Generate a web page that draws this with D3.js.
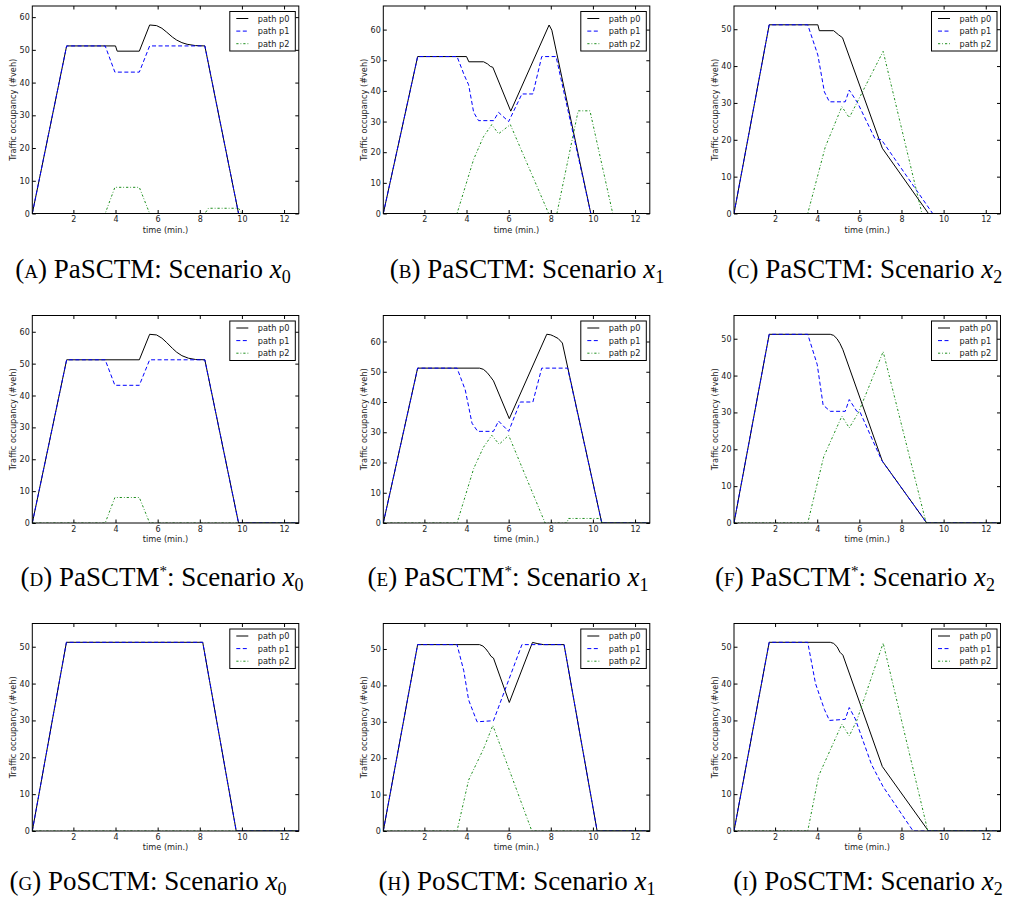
<!DOCTYPE html>
<html><head><meta charset="utf-8">
<script src="https://cdn.jsdelivr.net/npm/d3@7"></script>
<style>
body{margin:0;background:#fff;}
svg{display:block;}
</style></head>
<body>
<svg id="chart" width="1014" height="904"></svg>
<script>
// ---------------- DATA ----------------
const xTicks = [2, 4, 6, 8, 10, 12];
const xDomain = [0.05, 12.7];
const seriesNames = ["path p0", "path p1", "path p2"];

// Panel A: PaSCTM, scenario x0
const A_p0 = [[0.05,0],[1.68,51.2],[4.0,51.2],[4.08,49.6],[5.13,49.6],[5.62,57.6],[5.95,57.4],[6.2,56.6],[6.43,55.4],[6.7,53.9],[6.9,53.0],[7.15,52.2],[7.4,51.7],[7.8,51.3],[8.24,51.2],[9.84,0],[12.7,0]];
const A_p1 = [[0.05,0],[1.68,51.2],[3.51,51.2],[3.97,43.2],[5.13,43.2],[5.62,51.2],[8.24,51.2],[9.84,0],[12.7,0]];
const A_p2 = [[0.05,0],[3.51,0],[3.97,8.0],[5.13,8.0],[5.62,0],[8.24,0],[8.41,1.6],[9.84,1.6],[10.0,0],[12.7,0]];
// Panel B: PaSCTM, scenario x1
const B_p0 = [[0.05,0],[1.68,51.2],[4.0,51.2],[4.11,49.5],[4.81,49.5],[5.0,48.8],[5.13,48.0],[5.25,47.7],[6.1,33.4],[7.92,61.5],[8.05,59.8],[9.9,0],[12.7,0]];
const B_p1 = [[0.05,0],[1.68,51.2],[3.55,51.2],[3.9,45],[4.1,42],[4.34,33],[4.57,30.3],[5.29,30.3],[5.52,33],[6.0,30],[6.63,39],[7.15,39],[7.57,51.2],[8.25,51.2],[9.9,0],[12.7,0]];
const B_p2 = [[0.05,0],[3.55,0],[4.34,17.7],[4.8,25],[5.2,29],[5.52,26],[6.08,29],[7.9,0],[8.29,0],[9.3,33.5],[9.86,33.5],[10.94,0],[12.7,0]];
// Panel C: PaSCTM, scenario x2
const C_p0 = [[0.05,0],[1.72,51.2],[4.03,51.2],[4.1,49.6],[4.78,49.6],[5.01,48.5],[5.2,47.7],[7.09,17.7],[9.28,0],[12.7,0]];
const C_p1 = [[0.05,0],[1.72,51.2],[3.55,51.2],[4.03,43],[4.34,33],[4.58,30.3],[5.33,30.3],[5.52,33.5],[5.92,30],[6.74,20.3],[7.05,20],[9.48,0],[12.7,0]];
const C_p2 = [[0.05,0],[3.55,0],[4.38,18],[5.17,29],[5.52,26],[5.88,30],[7.13,44],[8.97,0],[12.7,0]];
// Panel D: PaSCTM*, scenario x0
const D_p0 = [[0.05,0],[1.68,51.2],[5.13,51.2],[5.62,59.2],[5.95,59.0],[6.2,58.0],[6.43,56.6],[6.7,54.8],[6.9,53.6],[7.15,52.5],[7.46,51.7],[7.8,51.3],[8.24,51.2],[9.84,0],[12.7,0]];
const D_p1 = [[0.05,0],[1.68,51.2],[3.51,51.2],[3.97,43.2],[5.13,43.2],[5.62,51.2],[8.24,51.2],[9.84,0],[12.7,0]];
const D_p2 = [[0.05,0],[3.51,0],[3.97,8.0],[5.13,8.0],[5.62,0],[12.7,0]];
// Panel E: PaSCTM*, scenario x1
const E_p0 = [[0.05,0],[1.68,51.2],[4.62,51.2],[4.8,50.8],[4.97,49.8],[5.12,48.5],[5.28,47],[6.03,34.5],[7.81,62.4],[8.0,62.2],[8.13,61.8],[8.35,61],[8.55,59.5],[10.42,0],[12.7,0]];
const E_p1 = [[0.05,0],[1.68,51.2],[3.55,51.2],[3.94,44],[4.26,33],[4.53,30.3],[5.28,30.3],[5.52,33.7],[6.0,30.3],[6.55,40],[7.15,40],[7.57,51.2],[8.8,51.2],[10.42,0],[12.7,0]];
const E_p2 = [[0.05,0],[3.55,0],[4.34,18],[4.8,25],[5.2,29],[5.55,26],[6.0,29],[7.73,0],[8.76,0],[8.84,1.5],[10.35,1.5],[10.45,0],[12.7,0]];
// Panel F: PaSCTM*, scenario x2
const F_p0 = [[0.05,0],[1.72,51.2],[4.62,51.2],[4.78,50.9],[4.94,50],[5.08,48.7],[5.22,47],[7.09,16.8],[9.2,0],[12.7,0]];
const F_p1 = [[0.05,0],[1.72,51.2],[3.55,51.2],[4.0,43],[4.28,32],[4.62,30.3],[5.33,30.3],[5.52,33.5],[5.88,30.3],[6.04,30],[7.06,17],[9.2,0],[12.7,0]];
const F_p2 = [[0.05,0],[3.55,0],[4.31,18],[5.17,29],[5.52,25.8],[5.96,30],[7.13,46.5],[9.17,0],[12.7,0]];
// Panel G: PoSCTM, scenario x0
const G_p0 = [[0.05,0],[1.67,51.2],[8.14,51.2],[9.73,0],[12.7,0]];
const G_p1 = [[0.05,0],[1.67,51.2],[8.14,51.2],[9.73,0],[12.7,0]];
const G_p2 = [[0.05,0],[12.7,0]];
// Panel H: PoSCTM, scenario x1
const H_p0 = [[0.05,0],[1.68,51.2],[4.62,51.2],[4.78,50.8],[4.92,50],[5.05,49],[5.16,48],[5.28,47.5],[6.03,35.3],[7.13,51.8],[7.35,51.5],[7.65,51.2],[8.63,51.2],[10.2,0],[12.7,0]];
const H_p1 = [[0.05,0],[1.68,51.2],[3.55,51.2],[3.87,44],[4.1,36],[4.5,30],[5.28,30.3],[6.63,51.2],[8.63,51.2],[10.2,0],[12.7,0]];
const H_p2 = [[0.05,0],[3.55,0],[4.1,14],[4.81,22.6],[5.25,29],[7.1,0],[12.7,0]];
// Panel I: PoSCTM, scenario x2
const I_p0 = [[0.05,0],[1.72,51.2],[4.62,51.2],[4.78,50.9],[4.94,50],[5.08,48.5],[5.22,47.7],[7.09,17.5],[9.28,0],[12.7,0]];
const I_p1 = [[0.05,0],[1.72,51.2],[3.55,51.2],[3.92,40],[4.34,33],[4.58,30],[5.33,30.3],[5.52,33.5],[5.8,30.5],[6.58,18],[7.13,12],[8.55,0],[12.7,0]];
const I_p2 = [[0.05,0],[3.55,0],[4.07,15],[5.17,29],[5.52,25.8],[5.88,30],[7.13,51],[9.25,0],[12.7,0]];

const panelSeries = [
  [A_p0, A_p1, A_p2], [B_p0, B_p1, B_p2], [C_p0, C_p1, C_p2],
  [D_p0, D_p1, D_p2], [E_p0, E_p1, E_p2], [F_p0, F_p1, F_p2],
  [G_p0, G_p1, G_p2], [H_p0, H_p1, H_p2], [I_p0, I_p1, I_p2]
];
const yMaxes = [63.4, 67.7, 56.3, 65.1, 68.6, 56.3, 56.3, 57.0, 56.3];
const captionLetters = ["a","b","c","d","e","f","g","h","i"];
const captionModels = ["PaSCTM","PaSCTM","PaSCTM","PaSCTM","PaSCTM","PaSCTM","PoSCTM","PoSCTM","PoSCTM"];
const captionStar = [false,false,false,true,true,true,false,false,false];
const captionSubs = ["0","1","2","0","1","2","0","1","2"];

// ---------------- LAYOUT ----------------
const colLeft = [32.3, 383.3, 734];
const plotW = 266.5;
const rowTop = [6, 315.5, 623.5];
const plotH = 207.5;
const captionCenter = [153, 527, 865, 162, 508, 855, 148, 517, 868];
const captionBase = [278, 586, 890];

const colors = ["#000000", "#0000ff", "#1f8f1f"];
const dashes = [null, "4,2.5", "2.2,2,0.8,2"];

const svg = d3.select("#chart");
const tickFont = "DejaVu Sans, sans-serif";

panelSeries.forEach((series, i) => {
  const col = i % 3, row = Math.floor(i / 3);
  const g = svg.append("g").attr("transform", `translate(${colLeft[col]},${rowTop[row]})`);
  const x = d3.scaleLinear().domain(xDomain).range([0, plotW]);
  const y = d3.scaleLinear().domain([0, yMaxes[i]]).range([plotH, 0]);
  const yTicks = d3.range(0, yMaxes[i], 10);

  const clipId = "clip" + i;
  g.append("clipPath").attr("id", clipId).append("rect").attr("width", plotW).attr("height", plotH);

  const line = d3.line().x(d => x(d[0])).y(d => y(d[1]));
  const lg = g.append("g").attr("clip-path", `url(#${clipId})`);
  [0, 1, 2].forEach(k => {
    lg.append("path").datum(series[k]).attr("d", line)
      .attr("fill", "none").attr("stroke", colors[k]).attr("stroke-width", 1)
      .attr("stroke-dasharray", dashes[k]).attr("stroke-linejoin", "round");
  });

  const ax = (sel) => { sel.select(".domain").remove(); sel.selectAll("text").attr("font-family", tickFont).attr("font-size", 8).attr("fill", "#222"); sel.selectAll("line").attr("stroke", "#000"); };
  g.append("g").attr("transform", `translate(0,${plotH})`)
    .call(d3.axisBottom(x).tickValues(xTicks).tickSize(-3.5).tickPadding(3).tickFormat(d3.format("d"))).call(ax);
  g.append("g")
    .call(d3.axisTop(x).tickValues(xTicks).tickSize(-3.5).tickFormat("")).call(ax);
  g.append("g")
    .call(d3.axisLeft(y).tickValues(yTicks).tickSize(-3.5).tickPadding(2.5).tickFormat(d3.format("d"))).call(ax);
  g.append("g").attr("transform", `translate(${plotW},0)`)
    .call(d3.axisRight(y).tickValues(yTicks).tickSize(-3.5).tickFormat("")).call(ax);

  g.append("rect").attr("width", plotW).attr("height", plotH)
    .attr("fill", "none").attr("stroke", "#000").attr("stroke-width", 1);

  g.append("text").attr("x", plotW / 2).attr("y", plotH + 19)
    .attr("text-anchor", "middle").attr("font-family", tickFont).attr("font-size", 8.2).attr("fill", "#222")
    .text("time (min.)");
  g.append("text").attr("transform", `translate(-16.5,${plotH / 2}) rotate(-90)`)
    .attr("text-anchor", "middle").attr("font-family", tickFont).attr("font-size", 8.2).attr("fill", "#222")
    .text("Traffic occupancy (#veh)");

  const legW = 65.5, legH = 39.5;
  const leg = g.append("g").attr("transform", `translate(${plotW - 3.5 - legW},${5.5})`);
  leg.append("rect").attr("width", legW).attr("height", legH).attr("fill", "#fff")
    .attr("stroke", "#000").attr("stroke-width", 1);
  seriesNames.forEach((name, k) => {
    const yy = 7 + k * 12.6;
    leg.append("line").attr("x1", 6.5).attr("x2", 18.5).attr("y1", yy).attr("y2", yy)
      .attr("stroke", colors[k]).attr("stroke-width", 1).attr("stroke-dasharray", dashes[k]);
    leg.append("text").attr("x", 28).attr("y", yy + 3).attr("font-family", tickFont)
      .attr("font-size", 8.2).attr("fill", "#222").text(name);
  });

  const cap = svg.append("text").attr("x", captionCenter[i]).attr("y", captionBase[row])
    .attr("text-anchor", "middle").attr("font-family", "Liberation Serif, serif")
    .attr("font-size", 27).attr("fill", "#000");
  cap.append("tspan").text("(");
  cap.append("tspan").style("font-variant", "small-caps").text(captionLetters[i]);
  cap.append("tspan").text(") " + captionModels[i]);
  if (captionStar[i]) cap.append("tspan").attr("dy", -10).attr("font-size", 15).text("*");
  cap.append("tspan").attr("dy", captionStar[i] ? 10 : 0).text(": Scenario ");
  cap.append("tspan").attr("font-style", "italic").text("x");
  cap.append("tspan").attr("dy", 5).attr("font-size", 18).text(captionSubs[i]);
});
</script>
</body></html>
